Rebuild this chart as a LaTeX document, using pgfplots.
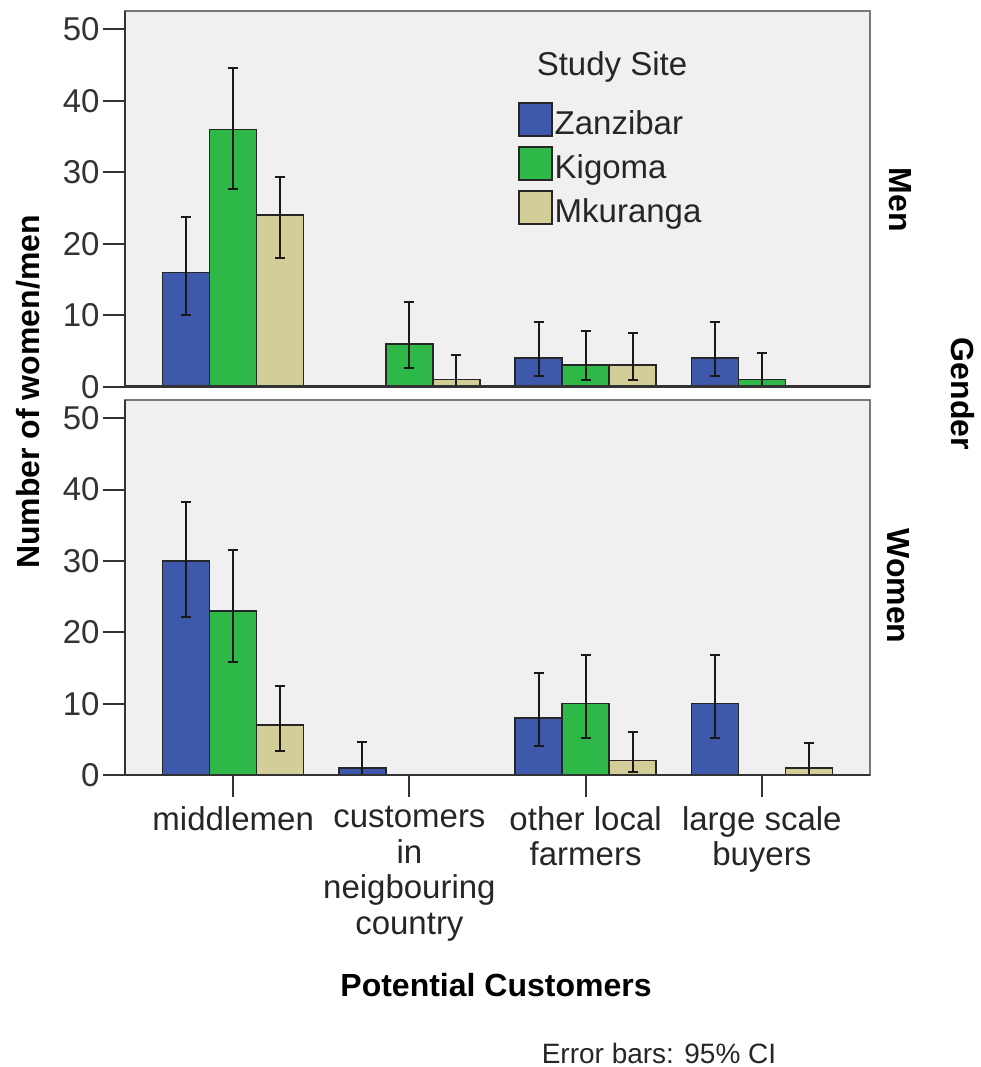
\documentclass[border=0pt]{standalone}
\usepackage{pgfplots}
\pgfplotsset{compat=1.18}
\usepackage{pgfplotstable}
\usepackage{fontspec}
\setmainfont{Liberation Sans}
\definecolor{zb}{RGB}{62,88,172}
\definecolor{kg}{RGB}{46,184,72}
\definecolor{mk}{RGB}{211,206,151}
\definecolor{bgc}{RGB}{240,240,240}
\definecolor{frame}{RGB}{120,120,120}
\newcommand\fs{\fontsize{33bp}{35.5bp}\selectfont}
\newcommand\bfs{\fontsize{32bp}{35bp}\selectfont\bfseries}

% Men
\pgfplotstableread{
x y ep em
0 16 7.7 6.0
2 4 5.1 2.5
3 4 5.1 2.5
}\menZ
\pgfplotstableread{
x y ep em
0 36 8.6 8.4
1 6 5.9 3.35
2 3 4.8 2.06
3 1 3.67 0.97
}\menK
\pgfplotstableread{
x y ep em
0 24 5.3 6.0
1 1 3.5 0.97
2 3 4.55 2.06
}\menM
% Women
\pgfplotstableread{
x y ep em
0 30 8.3 7.9
1 1 3.58 0.97
2 8 6.35 4.0
3 10 6.8 4.8
}\womZ
\pgfplotstableread{
x y ep em
0 23 8.5 7.1
2 10 6.8 4.8
}\womK
\pgfplotstableread{
x y ep em
0 7 5.5 3.63
2 2 4.07 1.6
3 1 3.45 0.97
}\womM

\pgfplotsset{
  panel/.style={
    scale only axis, width=745bp,
    xmin=-0.614, xmax=3.614, ymin=0, ymax=52.56,
    ytick={0,10,...,50},
    ybar=0pt, bar width=47bp,
    clip=false,
    axis background/.style={fill=bgc},
    axis line style={draw=frame, line width=2.5bp},
    tick align=outside, major tick length=22bp,
    ytick pos=left,
    tick style={draw=black!80, line width=2bp},
    yticklabel style={font=\fs, text=black!80},
    /pgf/number format/assume math mode=true,
    every axis plot/.append style={draw=black!85, line width=1.5bp},
    error bars/y dir=both, error bars/y explicit,
    error bars/error mark=|,
    error bars/error bar style={line width=2bp, black!90},
    error bars/error mark options={line width=2bp, black!90, mark size=5bp},
  },
}

\begin{document}
\begin{tikzpicture}
\begin{axis}[panel, name=top, at={(125bp,680.3bp)}, anchor=south west, height=375.7bp,
  xtick=\empty,
  legend style={at={(rel axis cs:0.5275,0.757)}, anchor=north west, draw=none, fill=none,
    inner sep=0pt, font=\fs, text=black!85, row sep=8.5bp,
    nodes={inner sep=2bp}},
  legend cell align=left,
  legend image code/.code={\draw[#1, line width=1.5bp] (0bp,-13bp) rectangle (33bp,20bp);},
]
\addplot[fill=zb] table[x=x,y=y,y error plus=ep,y error minus=em]{\menZ};
\addplot[fill=kg] table[x=x,y=y,y error plus=ep,y error minus=em]{\menK};
\addplot[fill=mk] table[x=x,y=y,y error plus=ep,y error minus=em]{\menM};
\legend{Zanzibar,Kigoma,Mkuranga}
\draw[black!80, line width=2.5bp] (rel axis cs:0,1) -- (rel axis cs:0,0) -- (rel axis cs:1,0);
\end{axis}

\begin{axis}[panel, name=bot, at={(125bp,292bp)}, anchor=south west, height=375bp,
  xtick={0,1,2,3}, xtick pos=bottom,
  xticklabels={middlemen,{customers\\in\\neigbouring\\country},{other local\\farmers},{large scale\\buyers}},
  xticklabel style={font=\fs, align=center, text=black!85, yshift=-6bp},
]
\addplot[fill=zb] table[x=x,y=y,y error plus=ep,y error minus=em]{\womZ};
\addplot[fill=kg] table[x=x,y=y,y error plus=ep,y error minus=em]{\womK};
\addplot[fill=mk] table[x=x,y=y,y error plus=ep,y error minus=em]{\womM};
\draw[black!80, line width=2.5bp] (rel axis cs:0,1) -- (rel axis cs:0,0) -- (rel axis cs:1,0);
\end{axis}

\node[font=\fs, text=black!85] at (612bp,1000bp) {Study Site};
\node[font=\bfs, rotate=90] at (28bp,675bp) {Number of women/men};
\node[font=\bfs, rotate=-90] at (900bp,867bp) {Men};
\node[font=\bfs, rotate=-90] at (898bp,481bp) {Women};
\node[font=\bfs, rotate=-90] at (963bp,673bp) {Gender};
\node[font=\bfs] at (496bp,82bp) {Potential Customers};
\node[font=\fontsize{28bp}{30bp}\selectfont, text=black!85] at (659bp,14bp) {Error bars: 95\% CI};

\pgfresetboundingbox
\useasboundingbox (0,0) rectangle (981bp,1067bp);
\end{tikzpicture}
\end{document}
